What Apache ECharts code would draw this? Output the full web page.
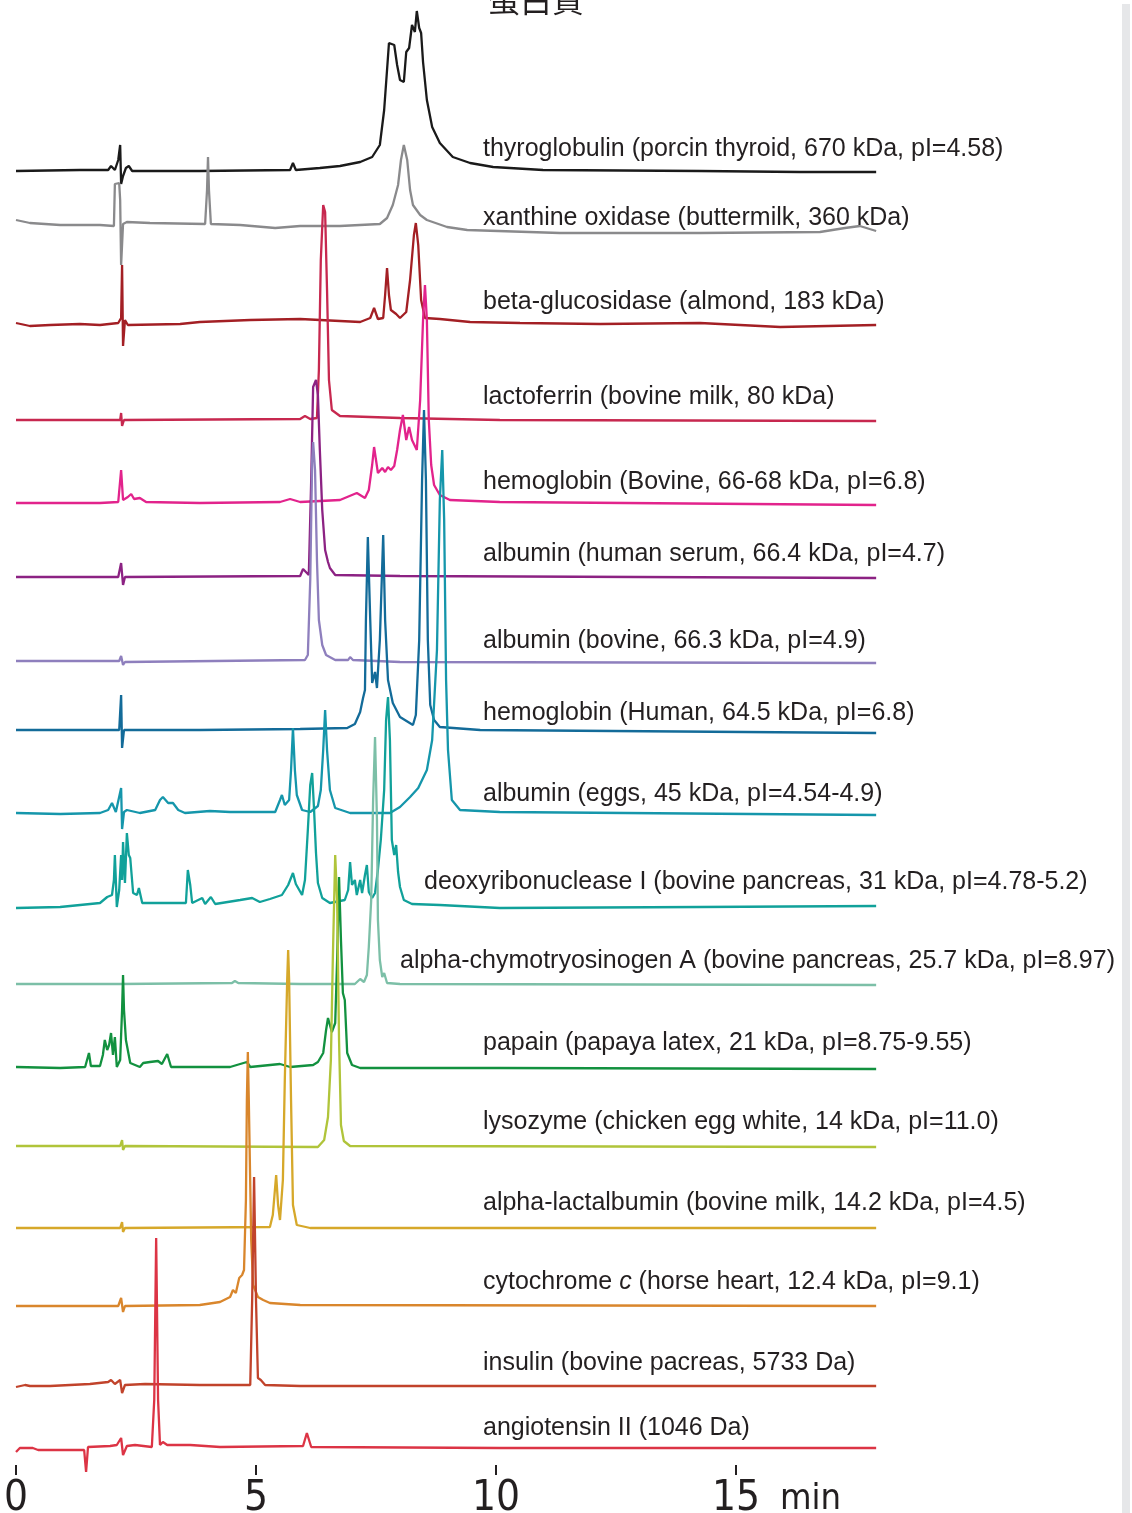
<!DOCTYPE html>
<html>
<head>
<meta charset="utf-8">
<script src="https://cdn.jsdelivr.net/npm/echarts@6/dist/echarts.min.js"></script>
<style>
  html, body { margin: 0; padding: 0; background: #fff; }
  #chart { width: 1132px; height: 1513px; }
</style>
</head>
<body>
<div id="chart"></div>
<script>
// retention time (min) vs detector signal above each trace's own baseline
const thyroglobulin = [[0,0],[1.33,1],[1.92,1],[1.98,5],[2.06,1],[2.13,11],[2.17,26],[2.19,-13],[2.23,-5],[2.29,3],[2.35,5],[2.42,0],[3.83,0],[5.71,1],[5.77,8],[5.83,1],[6.33,3],[6.75,5],[7.17,9],[7.42,14],[7.58,26],[7.67,61],[7.73,101],[7.77,128],[7.81,130],[7.88,126],[7.94,106],[8.0,91],[8.08,89],[8.13,119],[8.19,123],[8.25,146],[8.29,147],[8.31,139],[8.35,160],[8.40,143],[8.44,138],[8.48,109],[8.56,71],[8.67,44],[8.83,28],[9.10,14],[9.46,8],[9.94,4],[10.98,1],[14.25,0],[16.33,-1],[17.92,-1]];
const xanthineOxidase = [[0,5],[0.29,2],[0.92,0],[1.75,0],[2.04,-1],[2.06,41],[2.15,42],[2.17,25],[2.19,-40],[2.23,1],[2.31,3],[2.79,2],[3.94,1],[3.98,35],[4.0,68],[4.02,35],[4.06,1],[4.67,0],[5.40,-3],[5.92,-1],[6.75,-1],[7.58,1],[7.73,7],[7.85,20],[7.96,40],[8.02,65],[8.08,80],[8.15,65],[8.21,35],[8.27,20],[8.42,10],[8.56,5],[8.98,-2],[9.40,-5],[11.33,-8],[14.25,-8],[16.75,-7],[17.27,-3],[17.58,-1],[17.92,-6]];
const betaGlucosidase = [[0,2],[0.29,-1],[0.71,0],[1.33,1],[1.75,0],[2.13,2],[2.19,7],[2.21,60],[2.23,-21],[2.27,5],[2.33,0],[3.42,1],[3.83,3],[4.88,5],[5.92,6],[6.75,4],[7.17,3],[7.38,7],[7.46,17],[7.54,6],[7.65,7],[7.69,30],[7.73,57],[7.77,30],[7.81,15],[7.92,11],[8.0,7],[8.13,13],[8.21,45],[8.29,90],[8.33,102],[8.38,80],[8.44,25],[8.52,7],[8.83,6],[9.46,3],[10.5,2],[12.17,1],[14.25,2],[15.92,-2],[17.92,0]];
const lactoferrin = [[0,0],[1.75,0],[2.17,0],[2.19,7],[2.21,-6],[2.25,0],[5.92,1],[6.02,4],[6.13,1],[6.27,2],[6.31,50],[6.35,160],[6.40,215],[6.44,208],[6.48,130],[6.52,40],[6.58,10],[6.75,4],[8.0,2],[10.08,0],[17.92,-1]];
const hemoglobinBovine = [[0,0],[1.75,0],[2.13,1],[2.19,33],[2.23,3],[2.33,6],[2.4,9],[2.46,4],[2.58,5],[2.71,1],[3.83,0],[5.5,1],[5.71,4],[5.92,1],[6.75,3],[6.9,6],[7.1,10],[7.27,5],[7.35,13],[7.42,38],[7.46,56],[7.5,43],[7.54,30],[7.63,35],[7.69,31],[7.75,36],[7.81,33],[7.88,37],[7.94,53],[8.0,73],[8.06,88],[8.13,63],[8.19,76],[8.25,63],[8.29,63],[8.35,53],[8.42,103],[8.48,183],[8.52,218],[8.56,183],[8.6,83],[8.65,38],[8.71,18],[8.83,8],[9.04,3],[10.08,1],[17.92,-2]];
const albuminHuman = [[0,0],[2.13,0],[2.19,14],[2.23,-8],[2.27,0],[5.92,1],[5.98,8],[6.04,5],[6.10,2],[6.15,97],[6.19,190],[6.23,192],[6.25,197],[6.29,182],[6.33,127],[6.38,67],[6.44,27],[6.5,15],[6.54,9],[6.65,2],[8.0,1],[17.92,-1]];
const albuminBovine = [[0,1],[2.15,1],[2.19,6],[2.23,-3],[2.27,0],[6.02,2],[6.08,7],[6.13,82],[6.17,202],[6.19,220],[6.23,192],[6.27,102],[6.31,42],[6.38,17],[6.46,7],[6.65,2],[6.92,2],[6.96,5],[7.02,2],[8.0,0],[17.92,-1]];
const hemoglobinHuman = [[0,1],[2.15,1],[2.19,36],[2.21,-17],[2.25,1],[3.83,1],[5.92,2],[6.9,3],[7.06,7],[7.17,19],[7.23,33],[7.27,41],[7.29,111],[7.33,194],[7.38,111],[7.42,48],[7.48,59],[7.52,43],[7.58,91],[7.65,196],[7.69,111],[7.75,51],[7.85,28],[8.0,14],[8.27,6],[8.33,16],[8.4,91],[8.46,251],[8.5,321],[8.54,251],[8.58,91],[8.63,26],[8.71,11],[8.83,4],[9.67,1],[17.92,-2]];
const albuminEggs = [[0,2],[0.92,1],[1.75,2],[1.92,5],[2.0,12],[2.08,3],[2.19,27],[2.21,-14],[2.25,3],[2.31,5],[2.58,2],[2.9,5],[3.0,15],[3.06,18],[3.17,12],[3.27,12],[3.38,5],[3.52,2],[4.04,4],[4.46,3],[5.4,3],[5.5,15],[5.54,20],[5.6,10],[5.69,15],[5.73,45],[5.77,87],[5.81,45],[5.85,20],[5.96,5],[6.13,3],[6.29,9],[6.35,25],[6.4,65],[6.44,105],[6.48,65],[6.54,25],[6.65,7],[6.96,2],[7.79,2],[8.0,8],[8.21,18],[8.38,27],[8.56,45],[8.67,75],[8.77,165],[8.83,315],[8.88,365],[8.92,295],[8.96,135],[9.0,65],[9.08,15],[9.25,5],[10.08,3],[17.92,0]];
const deoxyribonuclease = [[0,-1],[0.92,0],[1.75,4],[1.9,10],[2.0,12],[2.04,27],[2.06,52],[2.08,27],[2.1,0],[2.15,17],[2.19,52],[2.21,27],[2.23,65],[2.27,24],[2.31,74],[2.35,52],[2.38,49],[2.44,14],[2.52,12],[2.56,19],[2.63,4],[3.0,4],[3.54,4],[3.58,37],[3.63,22],[3.67,4],[3.88,9],[3.94,3],[4.06,10],[4.15,3],[4.67,7],[4.92,9],[5.08,5],[5.29,8],[5.54,12],[5.67,22],[5.77,34],[5.83,23],[5.96,12],[6.02,27],[6.08,77],[6.13,122],[6.17,134],[6.21,97],[6.25,54],[6.29,24],[6.38,9],[6.54,4],[6.85,7],[6.92,17],[6.96,45],[7.0,22],[7.06,27],[7.1,12],[7.17,27],[7.21,14],[7.27,32],[7.31,42],[7.35,15],[7.42,9],[7.48,14],[7.54,37],[7.6,67],[7.67,117],[7.71,187],[7.75,210],[7.79,167],[7.83,67],[7.88,52],[7.92,62],[7.96,35],[8.0,20],[8.08,7],[8.25,3],[8.83,2],[10.08,-1],[14.25,0],[17.92,1]];
const chymotrypsinogen = [[0,0],[2.17,0],[4.5,1],[4.56,3],[4.63,1],[5.92,0],[7.06,0],[7.17,5],[7.25,2],[7.31,9],[7.35,37],[7.4,84],[7.44,184],[7.48,247],[7.52,164],[7.54,64],[7.58,24],[7.63,7],[7.67,11],[7.73,1],[8.0,0],[17.92,-1]];
const papain = [[0,1],[0.92,0],[1.44,1],[1.48,8],[1.52,15],[1.56,2],[1.75,2],[1.81,13],[1.85,28],[1.9,18],[1.94,23],[1.98,35],[2.02,13],[2.06,31],[2.1,1],[2.17,8],[2.21,58],[2.23,93],[2.25,58],[2.29,28],[2.38,5],[2.58,1],[2.65,5],[2.79,6],[2.96,7],[3.04,4],[3.15,14],[3.23,1],[4.46,1],[4.81,6],[4.88,1],[5.5,4],[5.71,1],[6.19,3],[6.29,6],[6.4,15],[6.46,38],[6.5,50],[6.58,36],[6.65,45],[6.69,108],[6.73,191],[6.77,128],[6.81,75],[6.85,68],[6.9,15],[7.0,3],[7.17,0],[10.08,0],[17.92,-1]];
const lysozyme = [[0,0],[2.17,0],[2.21,6],[2.23,-4],[2.27,0],[6.29,-1],[6.42,6],[6.5,29],[6.56,86],[6.6,186],[6.65,291],[6.69,246],[6.73,106],[6.77,21],[6.83,5],[6.96,0],[17.92,-1]];
const lactalbumin = [[0,-1],[2.17,-1],[2.21,5],[2.23,-5],[2.27,-1],[5.29,0],[5.35,12],[5.42,52],[5.46,22],[5.5,7],[5.56,47],[5.6,147],[5.65,247],[5.67,277],[5.69,247],[5.73,127],[5.77,22],[5.85,2],[6.13,-1],[17.92,-1]];
const cytochromeC = [[0,-1],[2.13,-1],[2.19,7],[2.23,-7],[2.27,-1],[3.83,0],[4.25,3],[4.46,8],[4.52,15],[4.58,12],[4.65,27],[4.71,30],[4.75,35],[4.79,105],[4.81,205],[4.83,253],[4.85,205],[4.9,65],[4.94,20],[5.04,8],[5.15,5],[5.29,2],[5.92,0],[17.92,-1]];
const insulin = [[0,-1],[0.19,1],[0.29,0],[0.71,0],[1.54,2],[1.92,4],[1.98,6],[2.06,2],[2.17,6],[2.21,-7],[2.27,1],[2.69,2],[3.83,1],[4.88,1],[4.92,86],[4.96,209],[5.0,86],[5.04,8],[5.1,6],[5.19,1],[5.92,0],[10.08,0],[17.92,0]];
const angiotensin = [[0,-4],[0.08,0],[0.35,0],[0.46,-2],[1.42,-2],[1.46,-24],[1.5,1],[1.96,2],[2.1,3],[2.19,10],[2.23,-7],[2.31,2],[2.48,3],[2.83,1],[2.88,48],[2.92,210],[2.96,48],[3.0,3],[3.06,6],[3.15,3],[3.63,3],[4.25,1],[5.98,2],[6.06,15],[6.15,1],[10.08,0],[17.92,0]];

const proteinNames = [
  'thyroglobulin (porcin thyroid, 670 kDa, pI=4.58)',
  'xanthine oxidase (buttermilk, 360 kDa)',
  'beta-glucosidase (almond, 183 kDa)',
  'lactoferrin (bovine milk, 80 kDa)',
  'hemoglobin (Bovine, 66-68 kDa, pI=6.8)',
  'albumin (human serum, 66.4 kDa, pI=4.7)',
  'albumin (bovine, 66.3 kDa, pI=4.9)',
  'hemoglobin (Human, 64.5 kDa, pI=6.8)',
  'albumin (eggs, 45 kDa, pI=4.54-4.9)',
  'deoxyribonuclease I (bovine pancreas, 31 kDa, pI=4.78-5.2)',
  'alpha-chymotryosinogen A (bovine pancreas, 25.7 kDa, pI=8.97)',
  'papain (papaya latex, 21 kDa, pI=8.75-9.55)',
  'lysozyme (chicken egg white, 14 kDa, pI=11.0)',
  'alpha-lactalbumin (bovine milk, 14.2 kDa, pI=4.5)',
  'cytochrome {i|c} (horse heart, 12.4 kDa, pI=9.1)',
  'insulin (bovine pacreas, 5733 Da)',
  'angiotensin II (1046 Da)'
];
const traces = [thyroglobulin, xanthineOxidase, betaGlucosidase, lactoferrin, hemoglobinBovine,
  albuminHuman, albuminBovine, hemoglobinHuman, albuminEggs, deoxyribonuclease, chymotrypsinogen,
  papain, lysozyme, lactalbumin, cytochromeC, insulin, angiotensin];
// vertical offset of each trace's baseline in the stack
const offsets = [1294, 1240, 1140, 1045, 962, 888, 803, 734, 650, 558, 481, 397, 319, 238, 160, 79, 17];
const tickValues = [0, 5, 10, 15];

const colors = ['#1a1a1a', '#8a8a8c', '#a31f24', '#c7284f', '#e2238c', '#8c2283', '#8e7fbd', '#136b99',
  '#1596ab', '#11a19a', '#7cbfa7', '#12913f', '#b0c43a', '#d6a82a', '#d9862c', '#c1432b', '#dc3445'];
// label anchor (left x, middle y) in px
const labelPos = [[483,148],[483,217],[483,301],[483,396],[483,481],[483,553],[483,640],[483,712],
  [483,793],[424,881],[400,960],[483,1042],[483,1121],[483,1202],[483,1281],[483,1362],[483,1427]];

const chart = echarts.init(document.getElementById('chart'), null, { renderer: 'canvas' });
const txt = '#231f20';
const labelFont = '"Liberation Sans", Arial, sans-serif';

const series = traces.map((d, i) => ({
  type: 'line',
  name: proteinNames[i],
  data: d.map(p => [p[0], p[1] + offsets[i]]),
  showSymbol: false,
  symbol: 'none',
  clip: false,
  lineStyle: { color: colors[i], width: 2.3 },
  z: 2 + i
}));

const graphic = proteinNames.map((n, i) => ({
  type: 'text',
  left: labelPos[i][0],
  top: labelPos[i][1] - 11,
  z: 100,
  style: {
    text: n,
    fill: txt,
    font: '25px ' + labelFont,
    rich: { i: { fontStyle: 'italic', fontSize: 25, fontFamily: 'Liberation Sans', fill: txt } }
  }
}));
graphic.push({
  type: 'text', left: 488, top: -16, z: 100,
  style: { text: '蛋白質', fill: txt, font: '32px "Noto Sans CJK TC", sans-serif' }
});
graphic.push({
  type: 'text', left: 780, top: 1482, z: 100,
  style: { text: 'min', fill: txt, font: '36px "Liberation Sans Narrow", "DejaVu Sans Condensed", sans-serif' }
});
graphic.push({
  type: 'rect', shape: { x: 1122, y: 4, width: 8, height: 1509 },
  style: { fill: '#e6e7e9' }, z: 0
});

chart.setOption({
  animation: false,
  backgroundColor: '#fff',
  grid: { left: 16, top: 0, width: 864, height: 1465, containLabel: false, outerBoundsMode: 'none' },
  xAxis: {
    type: 'value', min: 0, max: 18,
    axisLine: { show: false },
    splitLine: { show: false },
    axisTick: { show: true, length: 10, lineStyle: { color: txt, width: 2 }, customValues: tickValues },
    axisLabel: {
      customValues: tickValues, margin: 13, color: txt, fontSize: 42,
      fontFamily: '"Liberation Sans Narrow", "DejaVu Sans Condensed", sans-serif'
    }
  },
  yAxis: { type: 'value', min: 0, max: 1465, show: false, splitLine: { show: false } },
  series,
  graphic
});
</script>
</body>
</html>
